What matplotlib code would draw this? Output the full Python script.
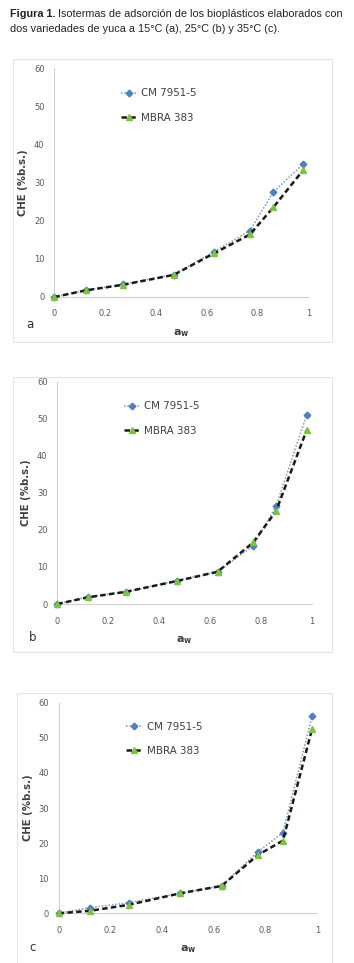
import matplotlib
matplotlib.use("Agg")
import matplotlib.pyplot as plt
from matplotlib.patches import Rectangle

# ---- data ----
aw_a = [0.0, 0.125, 0.27, 0.47, 0.63, 0.77, 0.862, 0.98]
cm_a = [0.0, 1.75, 3.3, 5.9, 11.9, 17.4, 27.5, 34.9]
mb_a = [0.0, 1.75, 3.2, 5.8, 11.5, 16.4, 23.5, 33.3]

aw_b = [0.0, 0.12, 0.27, 0.47, 0.63, 0.77, 0.86, 0.98]
cm_b = [0.0, 1.9, 3.3, 6.3, 8.7, 15.7, 26.4, 51.0]
mb_b = [0.0, 1.8, 3.3, 6.2, 8.7, 16.6, 25.1, 46.9]

aw_c = [0.0, 0.12, 0.27, 0.47, 0.63, 0.77, 0.867, 0.98]
cm_c = [0.0, 1.6, 3.0, 5.7, 7.8, 17.5, 23.0, 56.2]
mb_c = [0.0, 0.7, 2.4, 5.7, 7.8, 16.6, 20.7, 52.6]

series_names = ["CM 7951-5", "MBRA 383"]
yticks = [0, 10, 20, 30, 40, 50, 60]
xticks = [0, 0.2, 0.4, 0.6, 0.8, 1]
xtick_labels = ["0", "0.2", "0.4", "0.6", "0.8", "1"]
panel_letters = ["a", "b", "c"]
caption_bold = "Figura 1."
caption_rest1 = " Isotermas de adsorción de los bioplásticos elaborados con"
caption_line2 = "dos variedades de yuca a 15°C (a), 25°C (b) y 35°C (c)."

W, H = 354, 963
fig = plt.figure(figsize=(W / 100, H / 100), dpi=100)

cap_font = ["Liberation Sans Narrow", "Liberation Sans", "DejaVu Sans"]
cap_size = 7.8
t1 = fig.text(10 / W, 1 - 14 / H, caption_bold, fontsize=cap_size, fontweight="bold",
              family=cap_font, va="center", ha="left", color="#222222")
fig.canvas.draw()
bb = t1.get_window_extent()
fig.text(bb.x1 / W, 1 - 14 / H, caption_rest1, fontsize=cap_size, family=cap_font,
         va="center", ha="left", color="#222222")
fig.text(10 / W, 1 - 29 / H, caption_line2, fontsize=cap_size, family=cap_font,
         va="center", ha="left", color="#222222")

panels = [
    dict(ax=(54.3, 308.3, 68.3, 297), frame=(13, 332, 59, 342), letter=(30, 325),
         xlab=333, x=aw_a, cm=cm_a, mb=mb_a),
    dict(ax=(57.3, 311.7, 381.7, 604), frame=(13, 332, 377, 652), letter=(33, 637),
         xlab=640, x=aw_b, cm=cm_b, mb=mb_b),
    dict(ax=(58.7, 317.3, 702.7, 913.3), frame=(17, 332, 693, 970), letter=(33, 947),
         xlab=949, x=aw_c, cm=cm_c, mb=mb_c),
]

blue = "#4f81bd"
green = "#7ec242"
tick_col = "#595959"

for i, p in enumerate(panels):
    fl, fr, ft, fb = p["frame"]
    fig.patches.append(Rectangle((fl / W, 1 - fb / H), (fr - fl) / W, (fb - ft) / H,
                                 transform=fig.transFigure, fill=False,
                                 edgecolor="#e4e4e4", linewidth=0.8))
    l, r, t, b = p["ax"]
    ax = fig.add_axes([l / W, 1 - b / H, (r - l) / W, (b - t) / H])
    ax.plot(p["x"], p["cm"], linestyle=(0, (1, 1.2)), color="#8096b8", linewidth=1.1,
            marker="D", markersize=3.4, markerfacecolor=blue, markeredgecolor=blue,
            clip_on=False, label=series_names[0], zorder=3)
    ax.plot(p["x"], p["mb"], linestyle=(0, (2.2, 1.3)), color="#1a1a1a", linewidth=1.8,
            marker="^", markersize=3.8, markerfacecolor=green, markeredgecolor=green,
            clip_on=False, label=series_names[1], zorder=4)
    ax.set_xlim(0, 1)
    ax.set_ylim(0, 60)
    ax.set_yticks(yticks)
    ax.set_xticks(xticks)
    ax.set_xticklabels(xtick_labels)
    for s in ["top", "right"]:
        ax.spines[s].set_visible(False)
    for s in ["left", "bottom"]:
        ax.spines[s].set_color("#d0d0d0")
        ax.spines[s].set_linewidth(0.8)
    ax.tick_params(length=0, labelsize=6, labelcolor=tick_col)
    ax.tick_params(axis="y", pad=7)
    ax.tick_params(axis="x", pad=9)
    ax.set_ylabel("CHE (%b.s.)", fontsize=7.3, fontweight="bold", color="#404040",
                  labelpad=4)
    cx = (l + r) / 2
    fig.text(cx / W, 1 - p["xlab"] / H, r"$\mathbf{a}_{\mathbf{w}}$", fontsize=8,
             ha="center", va="center", color="#404040")
    fig.text(p["letter"][0] / W, 1 - p["letter"][1] / H, panel_letters[i], fontsize=8.5,
             ha="center", va="center", color="#303030")
    leg = ax.legend(loc="upper left", bbox_to_anchor=(0.245, 0.93), frameon=False,
                    fontsize=7.4, handlelength=1.6, handletextpad=0.4,
                    labelspacing=1.4, borderaxespad=0)
    for txt in leg.get_texts():
        txt.set_color("#404040")

fig.savefig("out.png", dpi=100)
